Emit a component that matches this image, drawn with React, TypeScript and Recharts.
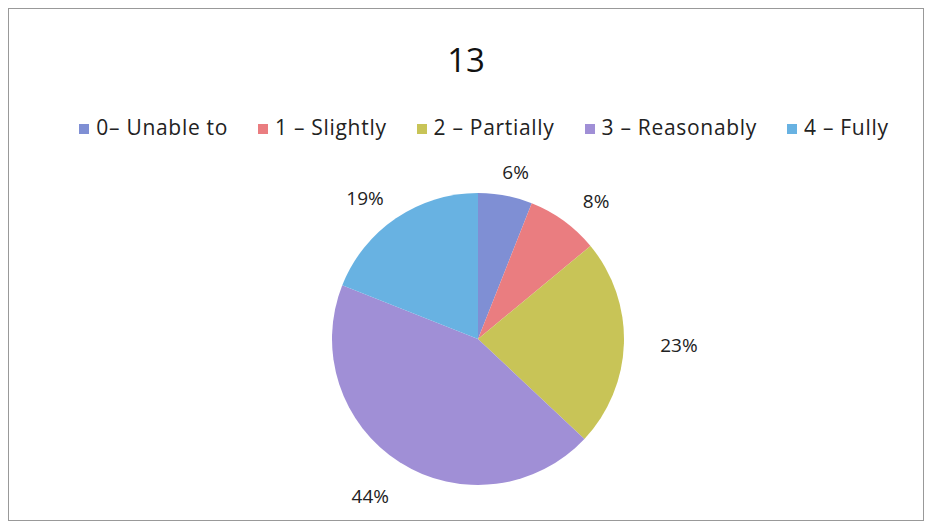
import { PieChart, Pie, Cell, Legend } from 'recharts';

const categories = ['0– Unable to', '1 – Slightly', '2 – Partially', '3 – Reasonably', '4 – Fully'];
const shares = [6, 8, 23, 44, 19];
const colors = ['#7f8fd4', '#ea7d80', '#c8c457', '#a08fd6', '#68b2e2'];

const data = categories.map((name, i) => ({ name, value: shares[i] }));

const RADIAN = Math.PI / 180;

// labels sit outside the pie, pushed a bit more sideways than up/down (like Excel's "outside end")
function renderLabel(props: any) {
    const { cx, cy, midAngle, outerRadius, value } = props;
    const cos = Math.cos(-midAngle * RADIAN);
    const sin = Math.sin(-midAngle * RADIAN);
    const x = cx + (outerRadius + 55) * cos;
    const y = cy + (outerRadius + (sin > 0 ? 40 : 24)) * sin;
    return (
        <text x={x} y={y} textAnchor="middle" dominantBaseline="central" fill="#222" fontSize={19}>
            {value}%
        </text>
    );
}

export default function App() {
    return (
        <div style={{ position: 'relative', width: 914, height: 511, border: '1px solid #999', background: '#fff', fontFamily: '"Open Sans", sans-serif' }}>
            <div style={{ position: 'absolute', top: 28, left: 0, width: '100%', textAlign: 'center', fontSize: 33, color: '#111' }}>13</div>
            <PieChart width={914} height={511}>
                <Legend
                    verticalAlign="top"
                    iconType="square"
                    iconSize={10}
                    wrapperStyle={{ top: 104, left: 38, fontSize: 21, color: '#222', letterSpacing: 0.7 }}
                    formatter={(v: string) => <span style={{ color: '#222', marginLeft: 3, marginRight: 20 }}>{v}</span>}
                />
                <Pie
                    data={data}
                    dataKey="value"
                    nameKey="name"
                    cx={464}
                    cy={297}
                    outerRadius={146}
                    startAngle={90}
                    endAngle={-270}
                    stroke="none"
                    label={renderLabel}
                    labelLine={false}
                    isAnimationActive={false}
                >
                    {data.map((d, i) => (
                        <Cell key={d.name} fill={colors[i]} />
                    ))}
                </Pie>
            </PieChart>
        </div>
    );
}
